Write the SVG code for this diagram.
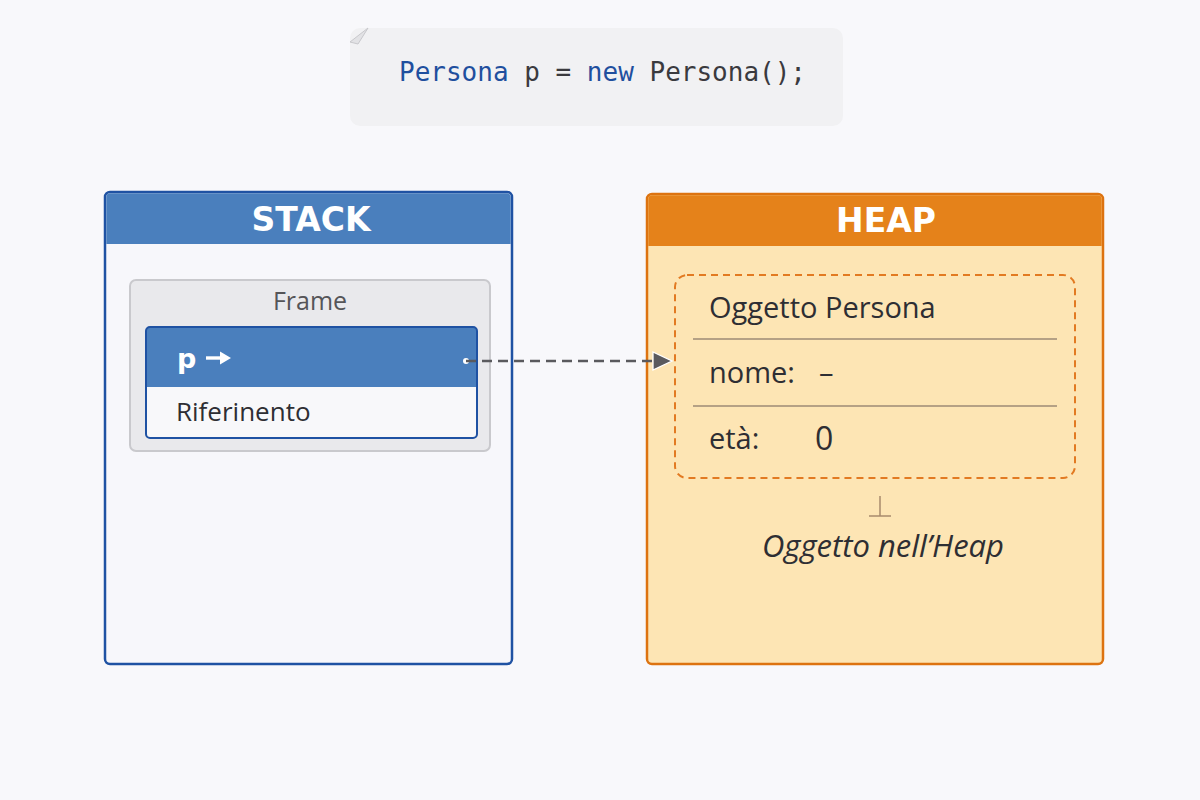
<svg xmlns="http://www.w3.org/2000/svg" width="1200" height="800" viewBox="0 0 1200 800">
<defs>
<style>
.t{font-family:"Open Sans","Noto Sans","DejaVu Sans",sans-serif;fill:#2e2e33}
.mono{font-family:"DejaVu Sans Mono","Liberation Mono",monospace;font-size:26px}
.hdr{font-family:"DejaVu Sans","Open Sans",sans-serif;font-weight:700;font-size:33px;fill:#fff}
.div{stroke:#9c8a76;stroke-width:1.5}
</style>
<marker id="ah" viewBox="0 0 24 24" refX="20" refY="12" markerWidth="24" markerHeight="24" markerUnits="userSpaceOnUse" orient="auto">
<path d="M2,3 L21,12 L2,21 Z" fill="#5a5a5e" stroke="#fff" stroke-width="1.3"/>
</marker>
</defs>
<rect width="1200" height="800" fill="#f8f8fb"/>

<g id="code">
<rect x="350" y="28" width="493" height="98" rx="10" fill="#f1f1f3"/>
<path d="M350,42 L368,28 L358,44 Z" fill="#e2e2e5" stroke="#c8c8cc" stroke-width="1"/>
<text class="mono" x="399" y="81"><tspan fill="#1f4f9e">Persona</tspan><tspan fill="#3a3a3e"> p = </tspan><tspan fill="#1f4f9e">new</tspan><tspan fill="#3a3a3e"> Persona();</tspan></text>
</g>

<g id="stack">
<rect x="105" y="192" width="407" height="472" rx="5" fill="#f7f7fb" stroke="#1f52a3" stroke-width="2.5"/>
<path d="M106.3,244 L106.3,197 Q106.3,193.3 110,193.3 L507,193.3 Q510.7,193.3 510.7,197 L510.7,244 Z" fill="#4a7fbd"/>
<text class="hdr" x="311" y="231" text-anchor="middle">STACK</text>
</g>

<g id="frame">
<rect x="130" y="280" width="360" height="171" rx="6" fill="#e9e9ec" stroke="#c9c9cd" stroke-width="2"/>
<text class="t" x="310" y="310" text-anchor="middle" font-size="25" style="fill:#555558">Frame</text>
</g>

<g id="ref">
<rect x="146" y="327" width="331" height="111" rx="4" fill="#f8f8fa"/>
<path d="M146,387 L146,331 Q146,327 150,327 L473,327 Q477,327 477,331 L477,387 Z" fill="#4a7fbd"/>
<rect x="146" y="327" width="331" height="111" rx="4" fill="none" stroke="#1f52a3" stroke-width="2"/>
<text x="177" y="368" font-family="DejaVu Sans, sans-serif" font-size="27" font-weight="700" fill="#fff">p</text>
<path d="M206,358 L224,358" stroke="#fff" stroke-width="3.4"/>
<path d="M220,351.5 L231,358 L220,364.5 Z" fill="#fff"/>
<text class="t" x="176" y="421" font-size="26">Riferinento</text>
</g>

<g id="heap">
<rect x="647" y="194" width="456" height="470" rx="5" fill="#fde5b4" stroke="#dd7310" stroke-width="2.5"/>
<path d="M648.3,246 L648.3,199 Q648.3,195.3 652,195.3 L1098,195.3 Q1101.7,195.3 1101.7,199 L1101.7,246 Z" fill="#e5821a"/>
<text class="hdr" x="886" y="232" text-anchor="middle">HEAP</text>
</g>

<g id="object">
<rect x="675" y="275" width="400" height="203" rx="12" fill="none" stroke="#e27a22" stroke-width="2" stroke-dasharray="7 5"/>
<text class="t" x="709" y="318" font-size="29">Oggetto Persona</text>
<line class="div" x1="693" y1="339" x2="1057" y2="339"/>
<text class="t" x="709" y="383" font-size="29">nome:</text>
<text class="t" x="819" y="383" font-size="29">–</text>
<line class="div" x1="693" y1="406" x2="1057" y2="406"/>
<text class="t" x="709" y="449" font-size="29">età:</text>
<text class="t" x="815" y="450" font-size="32">0</text>
</g>

<g id="caption">
<path d="M880,496 L880,516 M869,516 L891,516" stroke="#a88a6c" stroke-width="1.5" fill="none"/>
<text class="t" x="883" y="557" font-size="31" font-style="italic" text-anchor="middle">Oggetto nell’Heap</text>
</g>

<g id="connectors">
<circle cx="466" cy="361" r="3" fill="#fff"/>
<line x1="466" y1="361" x2="671" y2="361" stroke="#5a5a5e" stroke-width="2.5" stroke-dasharray="10 6" marker-end="url(#ah)"/>
</g>
</svg>
